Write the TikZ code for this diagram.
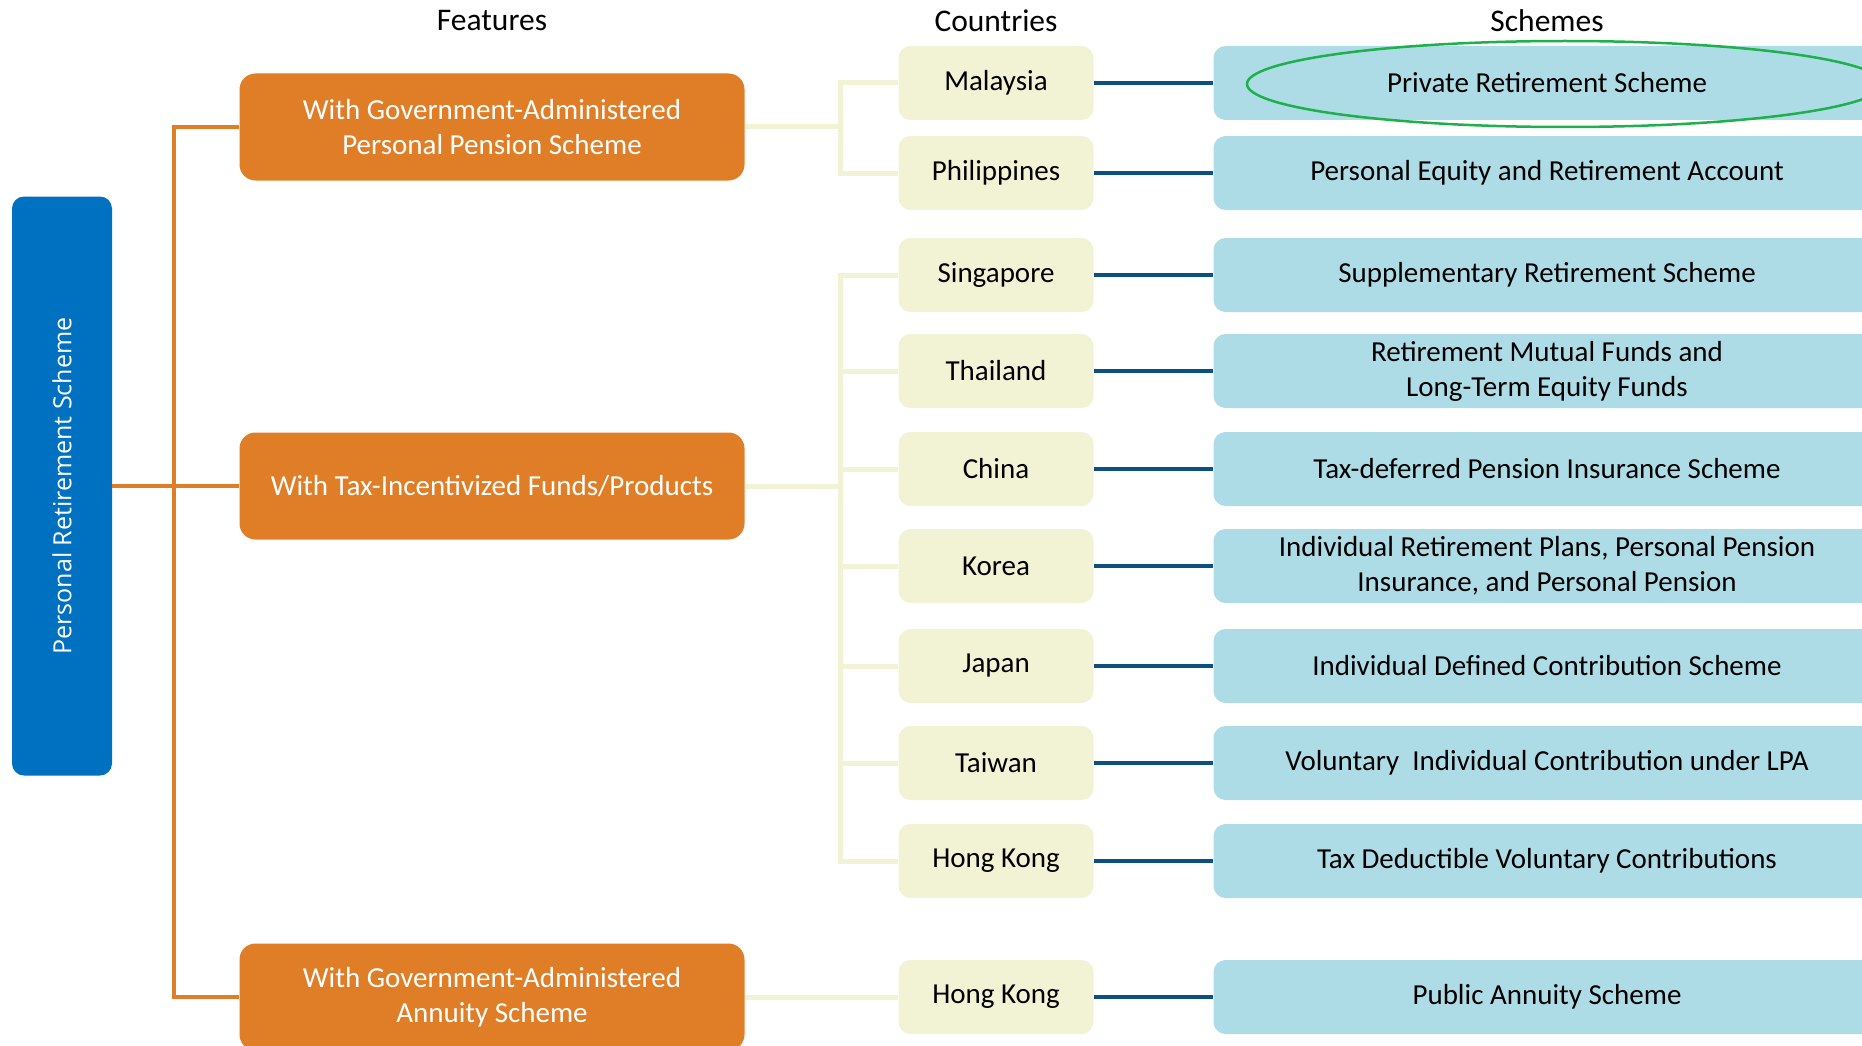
\documentclass[tikz,border=0pt]{standalone}
\usepackage{fontspec}
\setmainfont{Carlito}
\newfontfamily\rootfont{Open Sans}
\usepackage{graphicx}
\usetikzlibrary{shapes.geometric}
\definecolor{featorange}{HTML}{E07E28}
\definecolor{rootblue}{HTML}{0070C0}
\definecolor{countryfill}{HTML}{F2F2D5}
\definecolor{schemefill}{HTML}{AEDCE6}
\definecolor{linkblue}{HTML}{0B5080}
\definecolor{ringgreen}{HTML}{1DB04B}

\begin{document}
\begin{tikzpicture}[x=1pt, y=-1pt,
    every node/.style={font=\fontsize{29}{35}\selectfont, align=center, inner sep=0pt},
    headtext/.style={font=\fontsize{31.5}{36}\selectfont},
    rootbox/.style={fill=rootblue, rounded corners=12pt, minimum width=100pt, minimum height=579pt,
        text=white, font=\rootfont\fontsize{25}{30}\selectfont},
    featbox/.style={fill=featorange, rounded corners=16pt, minimum width=505pt, minimum height=107pt, text=white},
    countrybox/.style={fill=countryfill, rounded corners=12pt, minimum width=195pt, minimum height=74pt},
    schemebox/.style={fill=schemefill, rounded corners=12pt, minimum width=667pt, minimum height=74pt},
    trunk/.style={featorange, line width=4pt},
    twig/.style={countryfill, line width=5pt},
    link/.style={linkblue, line width=4.5pt}]

    \clip (0,0) rectangle (1862,1046);

    % Column headings
    \node[headtext] (hfeat) at (492,21) {Features};
    \node[headtext] (hcountry) at (996,21) {Countries};
    \node[headtext] (hscheme) at (1547,21) {Schemes};

    % Root
    \node[rootbox] (root) at (62,486) {\rotatebox{90}{Personal Retirement Scheme}};

    % Features
    \node[featbox] (feat1) at (492,127) {With Government-Administered\\Personal Pension Scheme};
    \node[featbox] (feat2) at (492,486) {With Tax-Incentivized Funds/Products};
    \node[featbox] (feat3) at (492,997) {With Government-Administered\\Annuity Scheme};

    % Countries
    \node[countrybox] (mal) at (996,83) {Malaysia};
    \node[countrybox] (phi) at (996,173) {Philippines};
    \node[countrybox] (sg) at (996,275) {Singapore};
    \node[countrybox] (th) at (996,371) {Thailand};
    \node[countrybox] (cn) at (996,469) {China};
    \node[countrybox] (kr) at (996,566) {Korea};
    \node[countrybox] (jp) at (996,666) {Japan};
    \node[countrybox] (tw) at (996,763) {Taiwan};
    \node[countrybox] (hk) at (996,861) {Hong Kong};
    \node[countrybox] (hkb) at (996,997) {Hong Kong};

    % Schemes
    \node[schemebox] (smal) at (1547,83) {Private Retirement Scheme};
    \node[schemebox] (sphi) at (1547,173) {Personal Equity and Retirement Account};
    \node[schemebox] (ssg) at (1547,275) {Supplementary Retirement Scheme};
    \node[schemebox] (sth) at (1547,371) {Retirement Mutual Funds and\\Long-Term Equity Funds};
    \node[schemebox] (scn) at (1547,469) {Tax-deferred Pension Insurance Scheme};
    \node[schemebox] (skr) at (1547,566) {Individual Retirement Plans, Personal Pension\\Insurance, and Personal Pension};
    \node[schemebox] (sjp) at (1547,666) {Individual Defined Contribution Scheme};
    \node[schemebox] (stw) at (1547,763) {Voluntary\ \ Individual Contribution under LPA};
    \node[schemebox] (shk) at (1547,861) {Tax Deductible Voluntary Contributions};
    \node[schemebox] (shkb) at (1547,997) {Public Annuity Scheme};

    % Highlight
    \node[draw=ringgreen, line width=2.5pt, ellipse, minimum width=636pt, minimum height=86pt] (ring) at (1565,84) {};

    % Root to features
    \draw[trunk] (root.east) -- (feat2.west);
    \draw[trunk] (feat1.west) -- ++(-65,0) |- (feat3.west);

    % Features to countries
    \draw[twig] (feat1.east) -- ++(96,0) coordinate (j1);
    \foreach \c in {mal,phi} {
        \draw[twig] (j1) |- (\c.west);
    }
    \draw[twig] (feat2.east) -- ++(96,0) coordinate (j2);
    \foreach \c in {sg,th,cn,kr,jp,tw,hk} {
        \draw[twig] (j2) |- (\c.west);
    }
    \draw[twig] (feat3.east) -- (hkb.west);

    % Countries to schemes
    \foreach \c in {mal,phi,sg,th,cn,kr,jp,tw,hk,hkb} {
        \draw[link] (\c.east) -- (s\c.west);
    }

\end{tikzpicture}
\end{document}
